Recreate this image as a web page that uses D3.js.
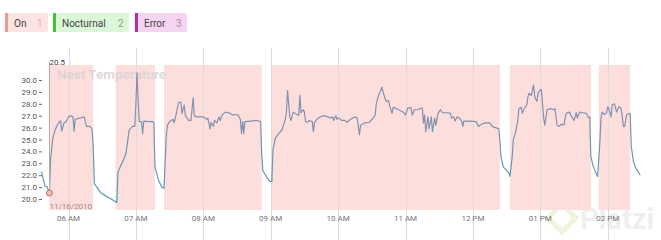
<!DOCTYPE html>
<html>
<head>
<meta charset="utf-8">
<script src="https://cdn.jsdelivr.net/npm/d3@7"></script>
<style>
  body { margin: 0; background: #fff; font-family: Roboto, "Noto Sans", sans-serif; }
  svg { display: block; }
</style>
</head>
<body>
<div id="chart"></div>
<script>
// legend
var legendLabels = ['On', 'Nocturnal', 'Error'];
var legendCounts = [1, 2, 3];
var legendBars = ['#e79c96', '#3cc43c', '#b62fb1'];
var legendFills = ['#fde3e1', '#dcf6d8', '#f5d4f0'];

// temperature readings on 11/16/2010, time as minutes since midnight
var times = [336,337,339,341,343,344,346,348,350,352,353,354,356,358,360,362,364,365,366,370,374,376,379,381,
  382,383,386,389,394,398,403,404,406,409,411,412,414,415,417,419,420,421,422,423,425,426,427,431,435,436,
  437,440,443,445,447,448,450,453,454,456,458,460,461,463,464,467,469,471,472,474,480,483,484,486,487,489,
  490,492,494,495,497,500,504,506,508,511,513,514,515,516,517,522,528,531,532,533,536,539,541,542,544,547,
  550,551,553,554,555,557,558,560,563,565,566,567,569,570,571,573,574,577,578,579,581,584,587,591,593,595,
  596,598,599,601,603,606,608,611,615,617,619,620,624,628,631,633,634,636,637,639,640,642,643,645,646,648,
  649,652,654,656,658,660,662,665,666,668,671,674,675,676,677,678,680,681,683,684,686,687,689,691,693,697,
  700,701,703,704,706,708,710,711,712,717,723,725,728,731,735,737,740,743,744,745,747,750,752,753,755,756,
  758,760,761,763,764,765,768,769,770,772,774,775,777,778,780,781,783,784,786,789,792,793,795,797,799,801,
  803,806,808,810,812,813,815,818,821,823,824,825,827,829,831,833,834,835,837,839,840,841,843,844,846,848,
  850,852,853,854,855,857,860,861,863,865,867,869];
var temps = [22.3,21.9,21.1,21.0,20.5,23.3,25.1,25.8,26.2,26.5,26.55,25.7,26.4,26.5,26.9,27.0,26.9,25.7,26.7,26.8,26.9,26.1,26.1,25.9,
  24.4,21.3,20.9,20.5,20.2,20.0,19.7,22.2,22.7,23.3,23.8,24.4,25.8,25.9,26.1,26.1,28.0,30.6,28.3,26.5,26.5,25.5,26.55,26.5,26.5,26.4,
  22.7,21.6,21.0,20.9,25.2,26.2,26.5,26.7,26.4,27.2,28.1,28.15,27.2,27.9,27.05,26.6,26.6,28.5,27.0,26.9,26.9,26.7,26.8,25.9,26.45,26.1,
  26.6,26.4,26.9,26.6,27.1,27.3,27.2,27.05,27.1,27.05,26.7,25.5,26.5,25.5,26.5,26.55,26.6,26.5,23.8,22.4,21.9,21.5,21.45,24.1,25.1,25.5,
  25.8,26.1,26.7,27.3,29.1,26.9,26.6,27.3,27.1,27.05,28.7,27.25,27.5,27.3,26.5,26.45,26.6,26.5,25.65,26.4,26.7,26.9,27.0,26.9,26.8,26.9,
  26.6,27.0,26.7,26.8,26.6,26.6,26.45,26.7,26.9,26.8,25.4,26.2,26.4,26.45,26.8,27.05,28.0,28.7,28.9,29.4,29.0,28.4,28.2,28.25,27.8,27.2,
  27.7,27.6,27.5,27.4,27.3,27.05,27.65,27.65,27.05,27.5,27.5,27.65,27.6,26.4,27.05,25.65,26.9,25.9,26.9,25.65,26.8,26.2,27.2,27.5,27.25,27.25,
  27.2,26.8,26.9,26.55,26.9,26.8,26.55,26.1,26.55,26.55,26.5,26.1,26.3,26.4,26.4,26.1,26.0,25.9,25.0,23.55,22.7,22.4,22.2,21.9,23.55,25.0,
  25.6,26.6,27.6,27.7,27.2,27.5,27.9,28.6,28.9,28.7,29.6,28.6,28.2,28.9,29.2,29.15,26.8,26.2,27.5,27.6,27.5,27.6,26.2,26.1,26.3,26.2,
  27.2,27.3,26.9,26.6,27.25,26.8,27.3,27.25,27.2,26.8,26.9,23.55,22.8,22.3,21.9,24.7,26.8,27.3,27.1,27.25,27.75,27.6,26.9,27.9,28.0,27.3,
  27.75,27.6,26.9,26.1,26.1,27.1,27.2,24.4,23.1,22.6,22.3,22.0];

// "On" periods (minutes since midnight)
var onStart = [343, 402, 445, 541, 753, 832];
var onEnd = [382, 437, 532, 744, 825, 860];

var yTicks = [20, 21, 22, 23, 24, 25, 26, 27, 28, 29, 30];
var hoverIndex = 4; // the 20.5 reading

var W = 661, H = 240;
var day = function(m) { return new Date(2010, 10, 16, 0, m); };

var data = times.map(function(t, i) { return {t: day(t), v: temps[i]}; });

var svg = d3.select('#chart').append('svg')
    .attr('width', W)
    .attr('height', H);

var x = d3.scaleTime()
    .domain([day(360), day(840)])
    .range([68.5, 607.7]);

var y = d3.scaleLinear()
    .domain([20, 30])
    .range([199, 80]);

var plotTop = 65, plotBottom = 210;

// watermark
var wm = svg.append('g').attr('class', 'watermark');
wm.append('rect')
    .attr('x', 552).attr('y', 208).attr('width', 20).attr('height', 20)
    .attr('transform', 'rotate(45 562 218)')
    .attr('fill', 'none')
    .attr('stroke', '#f1f3df')
    .attr('stroke-width', 5);
wm.append('text')
    .attr('x', 580).attr('y', 229)
    .style('font-size', '29px')
    .style('font-weight', 'bold')
    .style('fill', '#efefef')
    .text('Platzi');

// on periods
svg.append('g').selectAll('rect')
    .data(onStart)
    .enter().append('rect')
    .attr('x', function(d) { return x(day(d)); })
    .attr('y', plotTop)
    .attr('width', function(d, i) { return x(day(onEnd[i])) - x(day(d)); })
    .attr('height', plotBottom - plotTop)
    .attr('fill', '#fcdedc');

// vertical grid + x labels
var hours = d3.timeHour.range(day(360), day(841));
svg.append('g').selectAll('line')
    .data(hours)
    .enter().append('line')
    .attr('x1', function(d) { return Math.round(x(d)) + 0.5; })
    .attr('x2', function(d) { return Math.round(x(d)) + 0.5; })
    .attr('y1', 48)
    .attr('y2', H)
    .attr('stroke', '#dcdcdc')
    .attr('stroke-width', 1);

svg.append('g').selectAll('text')
    .data(hours)
    .enter().append('text')
    .attr('x', function(d) { return x(d); })
    .attr('y', 221)
    .attr('text-anchor', 'middle')
    .style('font-size', '8px')
    .style('fill', '#777')
    .text(d3.timeFormat('%I %p'));

// title
svg.append('text')
    .attr('x', 57).attr('y', 79)
    .style('font-size', '13.5px')
    .style('font-weight', 'bold')
    .style('fill', '#d9d3d3')
    .style('fill-opacity', 0.85)
    .text('Nest Temperature');

// y axis
var yAxis = svg.append('g')
    .attr('transform', 'translate(42,0)')
    .call(d3.axisLeft(y).tickValues(yTicks).tickFormat(d3.format('.1f')).tickSize(3).tickPadding(2));
yAxis.select('.domain').remove();
yAxis.selectAll('line').attr('stroke', '#666');
yAxis.selectAll('text')
    .style('font-size', '8px')
    .style('font-family', 'Roboto, sans-serif')
    .style('fill', '#555');

// line gradient
var grad = svg.append('defs').append('linearGradient')
    .attr('id', 'tempGrad')
    .attr('gradientUnits', 'userSpaceOnUse')
    .attr('x1', 0).attr('x2', 0)
    .attr('y1', y(20)).attr('y2', y(27));
grad.append('stop').attr('offset', '0%').attr('stop-color', '#549db6');
grad.append('stop').attr('offset', '100%').attr('stop-color', '#8490b0');

var line = d3.line()
    .x(function(d) { return x(d.t); })
    .y(function(d) { return y(d.v); });

svg.append('path')
    .datum(data)
    .attr('d', line)
    .attr('fill', 'none')
    .attr('stroke', 'url(#tempGrad)')
    .attr('stroke-width', 1.2)
    .attr('stroke-linejoin', 'round');

// hover marker
var hp = data[hoverIndex];
svg.append('line')
    .attr('x1', Math.round(x(hp.t)) + 0.5).attr('x2', Math.round(x(hp.t)) + 0.5)
    .attr('y1', 62).attr('y2', y(hp.v))
    .attr('stroke', '#c4a4a4')
    .attr('stroke-width', 1);
svg.append('text')
    .attr('x', x(hp.t)).attr('y', 65)
    .style('font-size', '8px')
    .style('fill', '#444')
    .text(d3.format('.1f')(hp.v));
svg.append('circle')
    .attr('cx', x(hp.t)).attr('cy', y(hp.v))
    .attr('r', 3)
    .attr('fill', '#f3b9b6')
    .attr('stroke', '#d56a66')
    .attr('stroke-width', 1);
svg.append('text')
    .attr('x', x(hp.t)).attr('y', 209)
    .style('font-size', '8px')
    .style('fill', '#a88787')
    .text(d3.timeFormat('%m/%d/%Y')(hp.t));

// legend chips
var lx = [5, 53, 135];
var lw = [43, 76, 52];
var chip = svg.append('g').selectAll('g')
    .data(legendLabels)
    .enter().append('g')
    .attr('transform', function(d, i) { return 'translate(' + lx[i] + ',13)'; });
chip.append('rect')
    .attr('width', function(d, i) { return lw[i]; })
    .attr('height', 19)
    .attr('rx', 2)
    .attr('fill', function(d, i) { return legendFills[i]; });
chip.append('rect')
    .attr('width', 3)
    .attr('height', 19)
    .attr('fill', function(d, i) { return legendBars[i]; });
chip.append('text')
    .attr('x', 9).attr('y', 13.5)
    .style('font-size', '10px')
    .style('fill', '#444')
    .text(function(d) { return d; });
chip.append('text')
    .attr('x', function(d, i) { return lw[i] - 11; })
    .attr('y', 13.5)
    .style('font-size', '10px')
    .style('fill', function(d, i) { return ['#d9b4b2', '#8fa48d', '#a98aa6'][i]; })
    .text(function(d, i) { return legendCounts[i]; });
</script>
</body>
</html>
